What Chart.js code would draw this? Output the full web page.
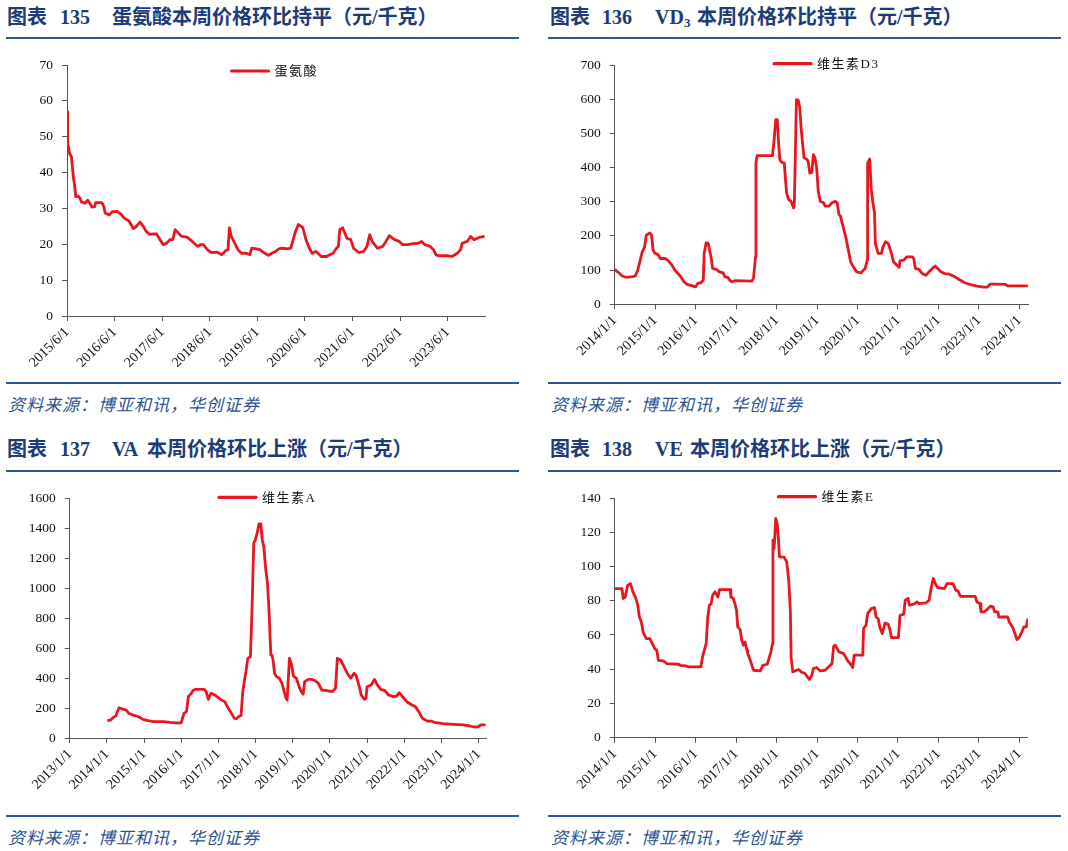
<!DOCTYPE html>
<html>
<head>
<meta charset="utf-8">
<script src="https://cdn.jsdelivr.net/npm/chart.js@4.4.1/dist/chart.umd.min.js"></script>
<style>
  body { margin: 0; background: #fff; width: 1068px; height: 851px; position: relative; overflow: hidden; }
  .t { position: absolute; font: bold 20px "Liberation Serif", "Noto Sans CJK SC"; color: #1d3b76; white-space: nowrap; line-height: 20px; }
  .t sub { font-size: 13px; vertical-align: -3px; line-height: 0; }
  .rule { position: absolute; height: 2px; background: #2d5797; }
  .src { position: absolute; font: italic 17px "Noto Sans CJK SC"; color: #2a5295; letter-spacing: 1px; white-space: nowrap; line-height: 17px; }
  canvas { position: absolute; }
</style>
</head>
<body>

<!-- titles -->
<div class="t" style="left:7px;top:7px">图表</div>
<div class="t" style="left:60px;top:7px">135</div>
<div class="t" style="left:112px;top:7px">蛋氨酸本周价格环比持平（元/千克）</div>

<div class="t" style="left:550px;top:7px">图表</div>
<div class="t" style="left:602px;top:7px">136</div>
<div class="t" style="left:655px;top:7px">VD<sub>3</sub></div>
<div class="t" style="left:697px;top:7px">本周价格环比持平（元/千克）</div>

<div class="t" style="left:7px;top:439px">图表</div>
<div class="t" style="left:60px;top:439px">137</div>
<div class="t" style="left:112px;top:439px">VA</div>
<div class="t" style="left:147px;top:439px">本周价格环比上涨（元/千克）</div>

<div class="t" style="left:550px;top:439px">图表</div>
<div class="t" style="left:602px;top:439px">138</div>
<div class="t" style="left:655px;top:439px">VE</div>
<div class="t" style="left:690px;top:439px">本周价格环比上涨（元/千克）</div>

<div class="rule" style="left:6px;width:513px;top:37px"></div>
<div class="rule" style="left:548px;width:513px;top:37px"></div>
<div class="rule" style="left:6px;width:513px;top:470px"></div>
<div class="rule" style="left:548px;width:513px;top:470px"></div>

<canvas id="c1" width="534" height="335" style="left:0;top:45px"></canvas>
<canvas id="c2" width="534" height="335" style="left:534px;top:45px"></canvas>
<canvas id="c3" width="534" height="335" style="left:0;top:478px"></canvas>
<canvas id="c4" width="534" height="335" style="left:534px;top:478px"></canvas>

<div class="rule" style="left:6px;width:513px;top:382px"></div>
<div class="rule" style="left:548px;width:513px;top:382px"></div>
<div class="rule" style="left:6px;width:513px;top:815px"></div>
<div class="rule" style="left:548px;width:513px;top:815px"></div>

<div class="src" style="left:8px;top:395px">资料来源：博亚和讯，华创证券</div>
<div class="src" style="left:551px;top:395px">资料来源：博亚和讯，华创证券</div>
<div class="src" style="left:8px;top:828px">资料来源：博亚和讯，华创证券</div>
<div class="src" style="left:551px;top:828px">资料来源：博亚和讯，华创证券</div>

<script>
// weekly prices, [decimal year, 元/千克]
const metSeries = [
  [2015.42,57],[2015.43,47.5],[2015.45,47],[2015.47,45.3],[2015.51,44.4],[2015.55,38.8],[2015.58,36],[2015.60,33.3],
  [2015.65,33.5],[2015.69,32.8],[2015.72,31.8],[2015.80,31.5],[2015.85,32.3],[2015.90,31.4],[2015.94,30.4],[2016.00,30.5],
  [2016.02,31.6],[2016.15,31.6],[2016.19,30.5],[2016.22,28.7],[2016.30,28.2],[2016.37,29.1],[2016.47,29.2],[2016.55,28.4],
  [2016.62,27.3],[2016.72,26.5],[2016.81,24.4],[2016.87,24.9],[2016.95,26.2],[2017.01,25.2],[2017.08,23.6],[2017.15,22.8],
  [2017.30,22.9],[2017.37,21.3],[2017.44,19.9],[2017.51,20.3],[2017.58,21.3],[2017.64,21.3],[2017.69,24.1],[2017.76,23.1],
  [2017.83,22.2],[2017.94,22],[2018.05,20.8],[2018.12,19.9],[2018.17,19.4],[2018.22,19.9],[2018.28,19.9],[2018.37,18.5],
  [2018.45,17.7],[2018.58,17.8],[2018.67,17.1],[2018.76,18.3],[2018.80,18.5],[2018.83,24.6],[2018.87,22.2],[2018.94,20.3],
  [2019.01,18.5],[2019.08,17.5],[2019.19,17.5],[2019.26,17.1],[2019.30,18.9],[2019.40,18.7],[2019.47,18.5],[2019.55,17.7],
  [2019.65,16.9],[2019.72,17.5],[2019.80,18],[2019.87,18.7],[2019.94,18.9],[2020.05,18.7],[2020.12,18.9],[2020.17,21.3],
  [2020.22,23.6],[2020.28,25.5],[2020.37,24.7],[2020.44,21.3],[2020.51,18.9],[2020.57,17.5],[2020.65,18],[2020.69,17.5],
  [2020.76,16.6],[2020.87,16.6],[2020.94,17.1],[2021.01,17.5],[2021.08,18.9],[2021.12,19.4],[2021.15,24.1],[2021.21,24.6],
  [2021.30,21.7],[2021.38,21.3],[2021.44,18.9],[2021.55,17.7],[2021.65,18],[2021.72,19.4],[2021.78,22.7],[2021.83,20.8],
  [2021.94,18.9],[2022.05,19.4],[2022.12,20.8],[2022.19,22.4],[2022.30,21.3],[2022.40,20.8],[2022.47,19.9],[2022.58,19.9],
  [2022.69,20.2],[2022.80,20.3],[2022.87,20.8],[2022.94,19.9],[2023.05,19.4],[2023.12,18.5],[2023.17,17.1],[2023.22,16.8],
  [2023.40,16.8],[2023.51,16.6],[2023.62,17.5],[2023.69,18.5],[2023.72,20.3],[2023.83,20.8],[2023.90,22.2],[2023.97,21.3],
  [2024.08,21.9],[2024.19,22.2]
];

const d3Series = [
  [2014.00,102],[2014.07,95],[2014.11,92],[2014.18,83],[2014.28,79],[2014.45,81],[2014.51,83],[2014.57,100],[2014.61,119],
  [2014.68,153],[2014.74,168],[2014.78,202],[2014.87,209],[2014.91,202],[2014.95,158],[2014.99,150],[2015.08,144],[2015.12,134],
  [2015.25,134],[2015.33,127],[2015.41,115],[2015.50,98],[2015.62,83],[2015.71,66],[2015.79,58],[2015.92,54],[2016.00,51],
  [2016.05,61],[2016.13,63],[2016.19,71],[2016.21,149],[2016.26,180],[2016.31,178],[2016.38,139],[2016.42,105],[2016.51,102],
  [2016.59,95],[2016.68,92],[2016.72,81],[2016.80,78],[2016.85,69],[2016.90,66],[2016.97,69],[2017.39,68],[2017.43,76],
  [2017.48,139],[2017.49,413],[2017.52,435],[2017.90,435],[2017.94,481],[2017.98,540],[2018.02,540],[2018.05,472],[2018.08,423],
  [2018.13,415],[2018.19,413],[2018.22,365],[2018.25,324],[2018.30,306],[2018.36,301],[2018.42,282],[2018.44,296],[2018.49,598],
  [2018.53,598],[2018.57,578],[2018.61,510],[2018.65,462],[2018.68,428],[2018.74,425],[2018.78,418],[2018.82,384],[2018.87,386],
  [2018.91,438],[2018.95,428],[2018.99,399],[2019.03,331],[2019.08,301],[2019.16,297],[2019.20,287],[2019.29,287],[2019.37,297],
  [2019.45,301],[2019.50,297],[2019.54,263],[2019.58,258],[2019.62,238],[2019.66,219],[2019.71,197],[2019.75,173],[2019.79,149],
  [2019.83,124],[2019.92,105],[2019.98,95],[2020.09,92],[2020.13,98],[2020.19,105],[2020.24,129],[2020.25,413],[2020.30,425],
  [2020.34,336],[2020.38,297],[2020.42,268],[2020.44,178],[2020.51,149],[2020.59,149],[2020.63,168],[2020.69,183],[2020.76,178],
  [2020.83,153],[2020.89,124],[2020.97,115],[2021.03,108],[2021.05,127],[2021.14,129],[2021.22,139],[2021.35,139],[2021.39,134],
  [2021.43,105],[2021.52,102],[2021.60,90],[2021.69,85],[2021.77,95],[2021.85,105],[2021.92,112],[2021.98,105],[2022.06,95],
  [2022.15,90],[2022.27,88],[2022.40,81],[2022.53,71],[2022.65,63],[2022.78,58],[2022.95,53],[2023.12,50],[2023.20,50],
  [2023.28,59],[2023.41,59],[2023.66,58],[2023.71,54],[2024.21,54]
];

const vaSeries = [
  [2014.01,116],[2014.10,120],[2014.19,142],[2014.24,147],[2014.28,176],[2014.33,202],[2014.42,193],[2014.51,187],[2014.59,164],
  [2014.70,153],[2014.79,147],[2014.88,138],[2014.97,124],[2015.11,116],[2015.25,109],[2015.52,109],[2015.70,104],[2015.89,100],
  [2016.00,102],[2016.07,164],[2016.14,176],[2016.19,276],[2016.25,293],[2016.33,320],[2016.39,324],[2016.62,324],[2016.67,309],
  [2016.73,258],[2016.80,298],[2016.90,287],[2016.99,271],[2017.08,253],[2017.17,242],[2017.24,209],[2017.34,169],[2017.43,131],
  [2017.49,129],[2017.54,142],[2017.61,151],[2017.65,298],[2017.70,387],[2017.74,442],[2017.79,531],[2017.86,542],[2017.90,831],
  [2017.95,1298],[2017.99,1320],[2018.04,1364],[2018.09,1427],[2018.14,1427],[2018.18,1320],[2018.22,1276],[2018.27,1131],
  [2018.32,1031],[2018.36,853],[2018.41,553],[2018.44,553],[2018.47,520],[2018.51,431],[2018.56,409],[2018.64,398],[2018.71,364],
  [2018.77,309],[2018.82,264],[2018.85,253],[2018.91,531],[2018.96,498],[2019.02,413],[2019.10,398],[2019.17,342],[2019.23,309],
  [2019.28,293],[2019.32,376],[2019.42,391],[2019.51,391],[2019.60,382],[2019.69,364],[2019.78,320],[2019.92,316],[2020.06,309],
  [2020.15,331],[2020.20,531],[2020.29,520],[2020.38,476],[2020.47,431],[2020.56,398],[2020.65,431],[2020.70,420],[2020.79,342],
  [2020.84,287],[2020.93,258],[2020.97,264],[2021.00,342],[2021.11,353],[2021.20,391],[2021.28,353],[2021.37,324],[2021.48,316],
  [2021.57,287],[2021.71,276],[2021.80,280],[2021.86,302],[2021.94,280],[2022.07,242],[2022.21,220],[2022.30,209],[2022.39,176],
  [2022.49,131],[2022.62,113],[2022.72,113],[2022.85,102],[2023.04,96],[2023.31,91],[2023.59,87],[2023.77,80],[2023.91,73],
  [2024.00,76],[2024.06,87],[2024.19,87]
];

const veSeries = [
  [2014.00,87.1],[2014.18,87.1],[2014.21,81.3],[2014.26,82.2],[2014.32,89.1],[2014.39,90],[2014.45,85.2],[2014.51,82.2],
  [2014.57,77.4],[2014.61,70.5],[2014.66,67.6],[2014.70,61.8],[2014.78,57.9],[2014.87,57.9],[2014.93,54.9],[2014.99,52],
  [2015.04,51],[2015.08,45.2],[2015.20,44.9],[2015.29,43.3],[2015.58,42.9],[2015.62,42.3],[2015.75,41.9],[2015.84,41.4],
  [2016.13,41.4],[2016.17,47.2],[2016.26,55],[2016.30,70.5],[2016.34,77.4],[2016.38,78],[2016.42,83.2],[2016.48,85.2],
  [2016.55,82.2],[2016.59,86.5],[2016.85,86.5],[2016.87,82.2],[2016.93,81.3],[2016.97,78.3],[2017.01,74.4],[2017.04,64.7],
  [2017.10,63.1],[2017.14,56.9],[2017.18,54],[2017.22,55.9],[2017.27,51],[2017.29,49],[2017.35,45.2],[2017.43,39.4],
  [2017.60,39],[2017.66,42.3],[2017.77,42.9],[2017.81,46.2],[2017.86,50],[2017.90,55],[2017.91,115.4],[2017.94,110.5],
  [2017.98,128.1],[2018.02,124.2],[2018.05,114.4],[2018.07,105.7],[2018.19,105.3],[2018.25,102.7],[2018.30,92],[2018.34,74.4],
  [2018.36,47.1],[2018.40,38.4],[2018.49,39.4],[2018.55,39.8],[2018.61,38.4],[2018.70,37.5],[2018.81,34],[2018.87,36.5],
  [2018.91,40.4],[2018.99,41],[2019.08,39],[2019.20,39.4],[2019.29,41.4],[2019.37,43.3],[2019.41,53.4],[2019.45,54],
  [2019.54,50.1],[2019.66,49.1],[2019.75,45.2],[2019.82,43.3],[2019.88,41],[2019.92,48.2],[2020.13,48.2],[2020.15,63.7],
  [2020.21,65.7],[2020.25,72.5],[2020.34,75.4],[2020.42,76],[2020.46,70.5],[2020.51,69.6],[2020.55,64.7],[2020.61,60.8],
  [2020.68,67],[2020.76,66.2],[2020.80,63.1],[2020.84,58.4],[2021.01,58.4],[2021.05,71.5],[2021.14,72.1],[2021.18,80.3],
  [2021.25,81.3],[2021.28,77.4],[2021.39,78],[2021.47,79.3],[2021.52,78.3],[2021.69,78.7],[2021.77,80.3],[2021.81,86.1],
  [2021.87,93],[2021.94,89.1],[2021.98,87.7],[2022.15,87.1],[2022.21,90],[2022.36,90],[2022.43,86.1],[2022.48,85.8],
  [2022.54,82.6],[2022.91,82.6],[2022.95,79.3],[2023.03,78.3],[2023.05,73.5],[2023.13,73.5],[2023.20,74.8],[2023.28,76.8],
  [2023.35,76.4],[2023.39,73.5],[2023.47,73.5],[2023.49,70.5],[2023.71,70.5],[2023.75,67.6],[2023.83,64.7],[2023.89,60.8],
  [2023.94,57.3],[2024.00,58.8],[2024.06,61.8],[2024.11,64.7],[2024.17,64.7],[2024.21,69.6]
];

const metTicks = ['2015/6/1','2016/6/1','2017/6/1','2018/6/1','2019/6/1','2020/6/1','2021/6/1','2022/6/1','2023/6/1'];
const d3Ticks = ['2014/1/1','2015/1/1','2016/1/1','2017/1/1','2018/1/1','2019/1/1','2020/1/1','2021/1/1','2022/1/1','2023/1/1','2024/1/1'];
const vaTicks = ['2013/1/1','2014/1/1','2015/1/1','2016/1/1','2017/1/1','2018/1/1','2019/1/1','2020/1/1','2021/1/1','2022/1/1','2023/1/1','2024/1/1'];
const veTicks = ['2014/1/1','2015/1/1','2016/1/1','2017/1/1','2018/1/1','2019/1/1','2020/1/1','2021/1/1','2022/1/1','2023/1/1','2024/1/1'];

const RED = '#e8161f';
const AXIS = '#555';
const FONT = '"Liberation Serif", "Noto Sans CJK SC"';

function toYear(s) {
  const p = s.split('/').map(Number);
  return p[0] + (p[1] - 1) / 12;
}

// legend sits inside the plot, near the top
const miniLegend = {
  id: 'miniLegend',
  afterDraw(chart, args, opts) {
    const { ctx, chartArea } = chart;
    const x = chartArea.left + opts.x, y = chartArea.top + opts.y;
    ctx.save();
    ctx.strokeStyle = RED;
    ctx.lineWidth = 3.2;
    ctx.lineCap = 'round';
    ctx.beginPath();
    ctx.moveTo(x, y);
    ctx.lineTo(x + 37, y);
    ctx.stroke();
    ctx.fillStyle = '#111';
    ctx.font = '13px ' + FONT;
    ctx.letterSpacing = '1.5px';
    ctx.textBaseline = 'middle';
    ctx.fillText(chart.data.datasets[0].label, x + 43, y + 1);
    ctx.restore();
  }
};

function makeChart(id, series, name, tickLabels, yMax, yStep, xMax, pad, leg) {
  const tickVals = tickLabels.map(toYear);
  return new Chart(document.getElementById(id), {
    type: 'line',
    data: {
      datasets: [{
        label: name,
        data: series.map(p => ({ x: p[0], y: p[1] })),
        borderColor: RED,
        borderWidth: 2.8,
        pointRadius: 0,
        tension: 0,
        fill: false,
        borderJoinStyle: 'round'
      }]
    },
    options: {
      responsive: false,
      animation: false,
      layout: { padding: pad },
      plugins: { legend: { display: false }, tooltip: { enabled: false }, miniLegend: leg },
      scales: {
        x: {
          type: 'linear',
          min: tickVals[0],
          max: xMax,
          afterBuildTicks: s => { s.ticks = tickVals.map(v => ({ value: v })); },
          afterFit: s => { s.height = 60; },
          grid: { display: true, drawOnChartArea: false, drawTicks: true, tickLength: 5, color: AXIS },
          border: { display: true, color: AXIS, width: 1 },
          ticks: {
            autoSkip: false, minRotation: 45, maxRotation: 45, padding: 3,
            color: '#111', font: { family: FONT, size: 14 },
            callback: (v, i) => tickLabels[i]
          }
        },
        y: {
          min: 0,
          max: yMax,
          afterFit: s => { s.width = 60; },
          grid: { display: true, drawOnChartArea: false, drawTicks: true, tickLength: 5, color: AXIS },
          border: { display: true, color: AXIS, width: 1 },
          ticks: {
            stepSize: yStep, padding: 9,
            color: '#111', font: { family: FONT, size: 13.5 },
            callback: v => String(v)
          }
        }
      }
    },
    plugins: [miniLegend]
  });
}

makeChart('c1', metSeries, '蛋氨酸', metTicks, 70, 10, 2024.21,
  { left: 7, right: 48.6, top: 20, bottom: 4 }, { x: 164.5, y: 6 });
makeChart('c2', d3Series, '维生素D3', d3Ticks, 700, 100, 2024.22,
  { left: 20.7, right: 39.7, top: 20, bottom: 15.7 }, { x: 159.4, y: -1.3 });
makeChart('c3', vaSeries, '维生素A', vaTicks, 1600, 200, 2024.2,
  { left: 9.8, right: 48, top: 20, bottom: 15 }, { x: 149.2, y: -0.7 });
makeChart('c4', veSeries, '维生素E', veTicks, 140, 20, 2024.21,
  { left: 20.7, right: 40.1, top: 20, bottom: 15.3 }, { x: 163.8, y: -1.3 });
</script>
</body>
</html>
